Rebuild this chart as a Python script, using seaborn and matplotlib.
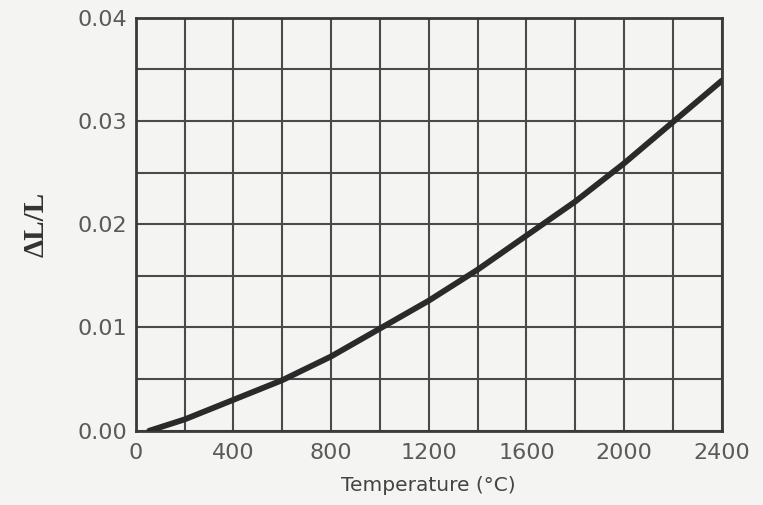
import matplotlib
matplotlib.use("Agg")
import matplotlib.pyplot as plt
import seaborn as sns
import numpy as np
import pandas as pd

temperature = [55, 200, 400, 600, 800, 1000, 1200, 1400, 1600, 1800, 2000, 2200, 2400]
strain = [0.0, 0.0011, 0.0030, 0.0049, 0.0072, 0.0099, 0.0126, 0.0156, 0.0189, 0.0222, 0.0259, 0.0299, 0.0339]
x_ticks = [0, 400, 800, 1200, 1600, 2000, 2400]
y_ticks = [0.00, 0.01, 0.02, 0.03, 0.04]
y_tick_labels = ["0.00", "0.01", "0.02", "0.03", "0.04"]

sns.set_theme(style="white")
plt.rcParams['font.family'] = ['DejaVu Sans']

df = pd.DataFrame({"T": temperature, "dL": strain})

fig = plt.figure(figsize=(7.63, 5.05), dpi=100, facecolor="#f4f4f2")
ax = fig.add_axes([0.178, 0.147, 0.768, 0.818])
ax.set_facecolor("#f4f4f2")

sns.lineplot(data=df, x="T", y="dL", ax=ax, color="#2a2a2a", linewidth=4.2, zorder=5)

ax.set_xlim(0, 2400)
ax.set_ylim(0, 0.04)
ax.set_xticks(x_ticks)
ax.set_yticks(y_ticks)
ax.set_yticklabels(y_tick_labels)
ax.set_xticks(np.arange(0, 2401, 200), minor=True)
ax.set_yticks(np.arange(0, 0.0401, 0.005), minor=True)
ax.grid(which="both", color="#4a4a4a", linewidth=1.5)
ax.tick_params(which="both", length=0, labelsize=16, colors="#5a5a5a")
ax.tick_params(axis="x", pad=9)
ax.tick_params(axis="y", pad=6)
for s in ax.spines.values():
    s.set_color("#3a3a3a")
    s.set_linewidth(2)

ax.set_xlabel("Temperature (°C)", fontsize=14.5, color="#444444", labelpad=9)
ax.set_ylabel("ΔL/L", fontsize=21, color="#333333", fontweight="bold",
              family=["Liberation Serif", "DejaVu Serif"], labelpad=20)

fig.savefig("out.png", dpi=100, facecolor=fig.get_facecolor())
